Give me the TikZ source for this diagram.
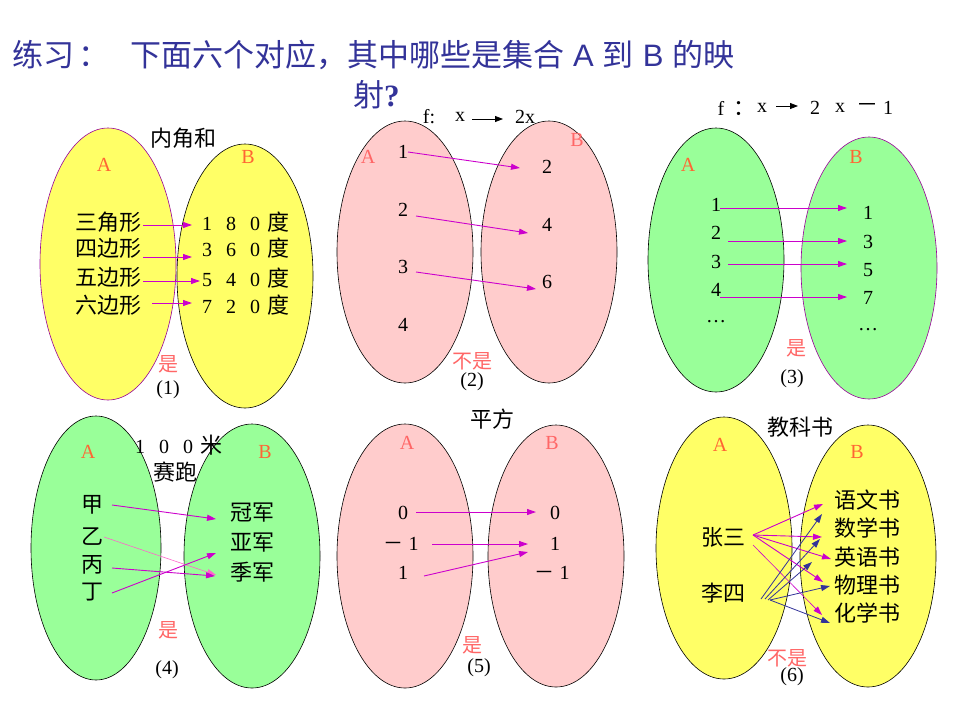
\documentclass[tikz,border=0pt]{standalone}
\usepackage{fontspec}
\setmainfont{Liberation Serif}
\newfontfamily\cjk{Noto Sans CJK SC}
\usetikzlibrary{arrows.meta}
\definecolor{ttl}{HTML}{333399}
\definecolor{yel}{HTML}{FFFF66}
\definecolor{pnk}{HTML}{FFCCCC}
\definecolor{grn}{HTML}{99FF99}
\definecolor{mag}{HTML}{CC00CC}
\definecolor{navyc}{HTML}{333399}
\definecolor{lab}{HTML}{FF6633}
\definecolor{labb}{HTML}{FF6666}
\definecolor{lpink}{HTML}{FF66CC}
\definecolor{purp}{HTML}{990099}
\tikzset{
  cn/.style={font=\cjk\fontsize{22}{22}\selectfont},
  num/.style={font=\fontsize{20}{20}\selectfont},
  setlab/.style={font=\fontsize{20}{20}\selectfont, text=lab},
  setlabb/.style={font=\fontsize{20}{20}\selectfont, text=labb},
  verdict/.style={font=\cjk\fontsize{20}{20}\selectfont, text=labb},
  arr/.style={draw=mag, line width=0.9pt, -{Triangle[length=9pt,width=6pt]}},
  navyarr/.style={draw=navyc, line width=0.8pt, -{Triangle[length=9pt,width=6pt]}},
  blk/.style={draw=black, line width=0.8pt, -{Triangle[length=8pt,width=6pt]}},
  setY/.style={fill=yel, draw=black, line width=0.6pt},
  setP/.style={fill=pnk, draw=black, line width=0.6pt},
  setG/.style={fill=grn, draw=black, line width=0.6pt},
  titlefont/.style={text=ttl, font=\cjk\fontsize{31}{31}\selectfont},
}
\newcommand\dg[1]{\makebox[24pt]{#1}}
\begin{document}
\begin{tikzpicture}[x=1pt,y=-1pt, every node/.style={inner sep=0pt}]
\useasboundingbox (0,0) rectangle (960,720);
\fill[white] (0,0) rectangle (960,720);

% title
\node[anchor=west, titlefont] (ttl1) at (12,55) {练习\hspace{4pt}：};
\node[anchor=west, titlefont] (ttl2) at (130,55)
  {下面六个对应，其中哪些是集合\hspace{9pt}{\fontspec{Liberation Sans}A}\hspace{9pt}到\hspace{9pt}{\fontspec{Liberation Sans}B}\hspace{9pt}的映};
\node[anchor=west, titlefont] (ttl3) at (353,95) {射{\rmfamily\bfseries ?}};

% ---------- panel 1 ----------
\draw[setY, draw=purp] (108,264) ellipse [x radius=68, y radius=136];
\draw[setY] (245,276) ellipse [x radius=68, y radius=132];
\node[cn] (p1t) at (183,138) {内角和};
\node[setlab] (p1A) at (104,165) {A};
\node[setlab] (p1B) at (248,157) {B};
\node[cn] (p1a1) at (108,222) {三角形};
\node[cn] (p1a2) at (108,248) {四边形};
\node[cn] (p1a3) at (108,277) {五边形};
\node[cn] (p1a4) at (108,305) {六边形};
\node[num, anchor=west] (p1b1) at (195,222) {\dg{1}\dg{8}\dg{0}{\cjk\fontsize{22}{22}\selectfont 度}};
\node[num, anchor=west] (p1b2) at (195,248) {\dg{3}\dg{6}\dg{0}{\cjk\fontsize{22}{22}\selectfont 度}};
\node[num, anchor=west] (p1b3) at (195,278) {\dg{5}\dg{4}\dg{0}{\cjk\fontsize{22}{22}\selectfont 度}};
\node[num, anchor=west] (p1b4) at (195,305) {\dg{7}\dg{2}\dg{0}{\cjk\fontsize{22}{22}\selectfont 度}};
\coordinate (p1s1) at (143,225); \coordinate (p1e1) at (192,225);
\coordinate (p1s2) at (143,257); \coordinate (p1e2) at (192,257);
\coordinate (p1s3) at (143,281); \coordinate (p1e3) at (200,281);
\coordinate (p1s4) at (152,303); \coordinate (p1e4) at (192,303);
\draw[arr] (p1s1) -- (p1e1);
\draw[arr] (p1s2) -- (p1e2);
\draw[arr] (p1s3) -- (p1e3);
\draw[arr] (p1s4) -- (p1e4);
\node[verdict] (p1v) at (168,364) {是};
\node[num] (p1n) at (168,390) {(1)};

% ---------- panel 2 ----------
\draw[setP] (405,252) ellipse [x radius=68, y radius=131];
\draw[setP] (549,252) ellipse [x radius=68, y radius=131];
\node[num] (p2f) at (429,117) {f:};
\node[num] (p2x) at (460,117) {x};
\node[num] (p2y) at (525,117) {2x};
\coordinate (p2fs) at (472,119); \coordinate (p2fe) at (503,119);
\draw[blk] (p2fs) -- (p2fe);
\node[setlabb] (p2A) at (368,157) {A};
\node[setlabb] (p2B) at (577,140) {B};
\node[num] (p2a1) at (403,152) {1};
\node[num] (p2a2) at (403,210) {2};
\node[num] (p2a3) at (403,267) {3};
\node[num] (p2a4) at (403,325) {4};
\node[num] (p2b1) at (547,167) {2};
\node[num] (p2b2) at (547,225) {4};
\node[num] (p2b3) at (547,282) {6};
\coordinate (p2s1) at (408,152); \coordinate (p2e1) at (520,168);
\coordinate (p2s2) at (416,216); \coordinate (p2e2) at (528,233);
\coordinate (p2s3) at (416,272); \coordinate (p2e3) at (536,289);
\draw[arr] (p2s1) -- (p2e1);
\draw[arr] (p2s2) -- (p2e2);
\draw[arr] (p2s3) -- (p2e3);
\node[verdict] (p2v) at (472,361) {不是};
\node[num] (p2n) at (472,382) {(2)};

% ---------- panel 3 ----------
\draw[setG] (716,260) ellipse [x radius=68, y radius=132];
\draw[setG, draw=purp] (869,268) ellipse [x radius=68, y radius=131];
\node[num] (p3f) at (721,108) {f};
\node[cn] (p3c) at (744,109) {：};
\node[num] (p3x) at (762,108) {x};
\coordinate (p3fs) at (776,106); \coordinate (p3fe) at (798,106);
\draw[blk] (p3fs) -- (p3fe);
\node[num] (p3two) at (815,108) {2};
\node[num] (p3x2) at (840,108) {x};
\node[cn] (p3m) at (867,108) {－};
\node[num] (p3one) at (888,108) {1};
\node[setlab] (p3A) at (688,165) {A};
\node[setlab] (p3B) at (856,157) {B};
\node[num] (p3a1) at (716,205) {1};
\node[num] (p3a2) at (716,233) {2};
\node[num] (p3a3) at (716,262) {3};
\node[num] (p3a4) at (716,290) {4};
\node[num] (p3a5) at (716,322) {\dots};
\node[num] (p3b1) at (868,213) {1};
\node[num] (p3b2) at (868,242) {3};
\node[num] (p3b3) at (868,270) {5};
\node[num] (p3b4) at (868,298) {7};
\node[num] (p3b5) at (868,330) {\dots};
\coordinate (p3s1) at (720,208); \coordinate (p3e1) at (847,208);
\coordinate (p3s2) at (728,241); \coordinate (p3e2) at (847,241);
\coordinate (p3s3) at (728,264); \coordinate (p3e3) at (847,264);
\coordinate (p3s4) at (720,297); \coordinate (p3e4) at (847,297);
\draw[arr] (p3s1) -- (p3e1);
\draw[arr] (p3s2) -- (p3e2);
\draw[arr] (p3s3) -- (p3e3);
\draw[arr] (p3s4) -- (p3e4);
\node[verdict] (p3v) at (796,348) {是};
\node[num] (p3n) at (792,379) {(3)};

% ---------- panel 4 ----------
\draw[setG] (96,548) ellipse [x radius=65, y radius=132];
\draw[setG] (252,556) ellipse [x radius=68, y radius=132];
\node[num, anchor=west] (p4t) at (128,445) {\dg{1}\dg{0}\dg{0}{\cjk\fontsize{22}{22}\selectfont 米}};
\node[cn] (p4t2) at (175,472) {赛跑};
\node[setlab] (p4A) at (88,452) {A};
\node[setlab] (p4B) at (265,452) {B};
\node[cn] (p4a1) at (92,505) {甲};
\node[cn] (p4a2) at (92,537) {乙};
\node[cn] (p4a3) at (92,565) {丙};
\node[cn] (p4a4) at (92,592) {丁};
\node[cn] (p4b1) at (252,513) {冠军};
\node[cn] (p4b2) at (252,543) {亚军};
\node[cn] (p4b3) at (252,572) {季军};
\coordinate (p4s1) at (112,505); \coordinate (p4e1) at (216,519);
\coordinate (p4s2) at (104,537); \coordinate (p4e2) at (216,575);
\coordinate (p4s3) at (112,568); \coordinate (p4e3) at (215,576);
\coordinate (p4s4) at (112,593); \coordinate (p4e4) at (216,553);
\draw[arr] (p4s1) -- (p4e1);
\draw[arr, draw=lpink, line width=0.6pt] (p4s2) -- (p4e2);
\draw[arr] (p4s3) -- (p4e3);
\draw[arr] (p4s4) -- (p4e4);
\node[verdict] (p4v) at (168,630) {是};
\node[num] (p4n) at (167,670) {(4)};

% ---------- panel 5 ----------
\draw[setP] (405,556) ellipse [x radius=68, y radius=132];
\draw[setP] (556,556) ellipse [x radius=68, y radius=131];
\node[cn] (p5t) at (492,419) {平方};
\node[setlabb] (p5A) at (407,443) {A};
\node[setlabb] (p5B) at (552,443) {B};
\node[num] (p5a1) at (403,513) {0};
\node[num] (p5a2) at (401,544) {{\cjk －}\hspace{5pt}1};
\node[num] (p5a3) at (403,573) {1};
\node[num] (p5b1) at (555,513) {0};
\node[num] (p5b2) at (555,544) {1};
\node[num] (p5b3) at (552,573) {{\cjk －}\hspace{5pt}1};
\coordinate (p5s1) at (416,512); \coordinate (p5e1) at (536,512);
\coordinate (p5s2) at (432,544); \coordinate (p5e2) at (528,544);
\coordinate (p5s3) at (424,576); \coordinate (p5e3) at (528,552);
\draw[arr] (p5s1) -- (p5e1);
\draw[arr] (p5s2) -- (p5e2);
\draw[arr] (p5s3) -- (p5e3);
\node[verdict] (p5v) at (472,645) {是};
\node[num] (p5n) at (479,668) {(5)};

% ---------- panel 6 ----------
\draw[setY] (724,548) ellipse [x radius=68, y radius=131];
\draw[setY] (868,556) ellipse [x radius=68, y radius=131];
\node[cn] (p6t) at (800,427) {教科书};
\node[setlab] (p6A) at (720,445) {A};
\node[setlab] (p6B) at (857,452) {B};
\node[cn] (p6a1) at (723,537) {张三};
\node[cn] (p6a2) at (723,593) {李四};
\node[cn] (p6b1) at (867,500) {语文书};
\node[cn] (p6b2) at (867,528) {数学书};
\node[cn] (p6b3) at (867,557) {英语书};
\node[cn] (p6b4) at (867,585) {物理书};
\node[cn] (p6b5) at (867,613) {化学书};
\coordinate (zs) at (753,535); \coordinate (zs2) at (753,545);
\coordinate (le1) at (823,504); \coordinate (le2) at (822,537);
\coordinate (le3) at (831,559); \coordinate (le4) at (823,582);
\coordinate (le5) at (822,615);
\draw[arr] (zs) -- (le1);
\draw[arr] (zs) -- (le2);
\draw[arr] (zs) -- (le3);
\draw[arr] (zs) -- (le4);
\draw[arr, line width=0.6pt] (zs2) -- (le5);
\coordinate (ls1) at (761,599); \coordinate (ls2) at (765,599);
\coordinate (ls3) at (768,600); \coordinate (ls4) at (770,600);
\coordinate (ne1) at (822,514); \coordinate (ne2) at (820,539);
\coordinate (ne3) at (812,562); \coordinate (ne4) at (830,586);
\coordinate (ne5) at (830,623);
\draw[navyarr] (ls1) -- (ne1);
\draw[navyarr] (ls2) -- (ne2);
\draw[navyarr] (ls3) -- (ne3);
\draw[navyarr] (ls4) -- (ne4);
\draw[navyarr] (ls4) -- (ne5);
\node[verdict] (p6v) at (787,658) {不是};
\node[num] (p6n) at (792,677) {(6)};
\end{tikzpicture}
\end{document}
